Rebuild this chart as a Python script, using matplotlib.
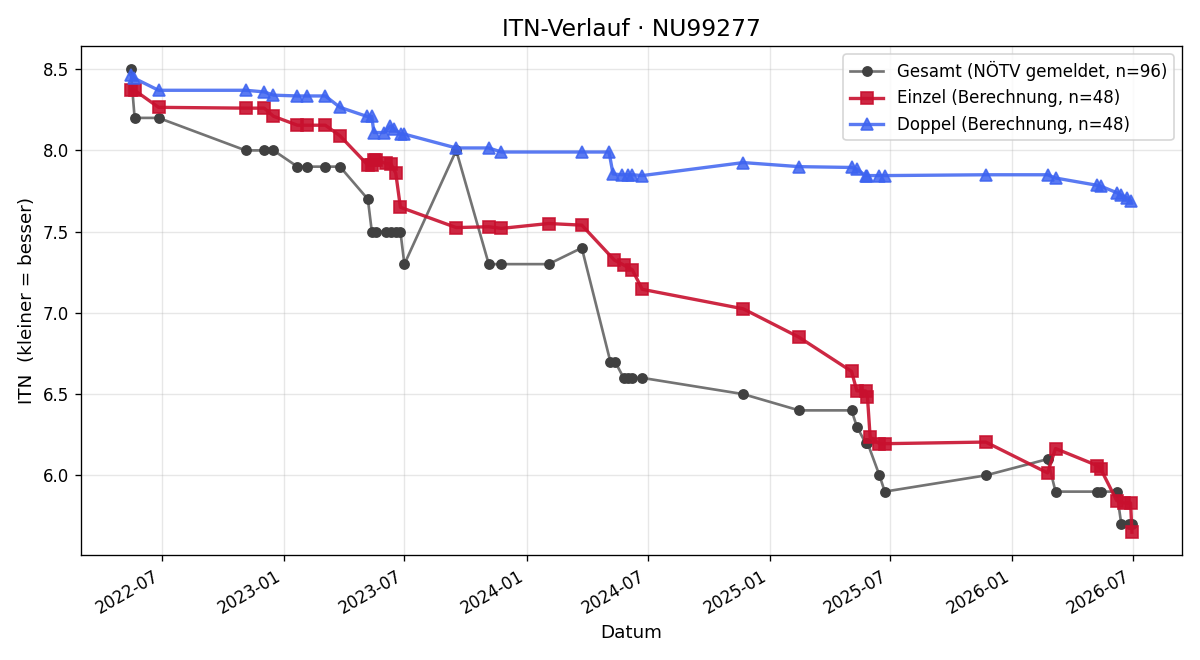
import matplotlib
matplotlib.use("Agg")
import matplotlib.pyplot as plt
import matplotlib.dates as mdates
import pandas as pd

# Gesamt-ITN (vom NÖTV gemeldet)
gesamt_dates = [
    "2022-05-15", "2022-05-21", "2022-06-26", "2022-11-04", "2022-12-02", "2022-12-16",
    "2023-01-21", "2023-02-04", "2023-03-04", "2023-03-26", "2023-05-07", "2023-05-13",
    "2023-05-19", "2023-06-03", "2023-06-11", "2023-06-18", "2023-06-25", "2023-07-01",
    "2023-09-17", "2023-11-05", "2023-11-24", "2024-02-03", "2024-03-24", "2024-05-06",
    "2024-05-13", "2024-05-26", "2024-06-01", "2024-06-08", "2024-06-23", "2024-11-22",
    "2025-02-14", "2025-05-04", "2025-05-12", "2025-05-25", "2025-05-28", "2025-06-15",
    "2025-06-23", "2025-11-22", "2026-02-23", "2026-03-07", "2026-05-09", "2026-05-14",
    "2026-06-07", "2026-06-14", "2026-06-26", "2026-06-30",
]
gesamt_itn = [
    8.5, 8.2, 8.2, 8.0, 8.0, 8.0,
    7.9, 7.9, 7.9, 7.9, 7.7, 7.5,
    7.5, 7.5, 7.5, 7.5, 7.5, 7.3,
    8.0, 7.3, 7.3, 7.3, 7.4, 6.7,
    6.7, 6.6, 6.6, 6.6, 6.6, 6.5,
    6.4, 6.4, 6.3, 6.2, 6.2, 6.0,
    5.9, 6.0, 6.1, 5.9, 5.9, 5.9,
    5.9, 5.7, 5.7, 5.7,
]

# Einzel (Berechnung)
einzel_dates = [
    "2022-05-15", "2022-05-21", "2022-06-26", "2022-11-04", "2022-12-02", "2022-12-16",
    "2023-01-21", "2023-02-04", "2023-03-04", "2023-03-26", "2023-05-07", "2023-05-13",
    "2023-05-16", "2023-05-19", "2023-06-03", "2023-06-11", "2023-06-18", "2023-06-25",
    "2023-09-17", "2023-11-05", "2023-11-24", "2024-02-03", "2024-03-24", "2024-05-12",
    "2024-05-26", "2024-06-08", "2024-06-23", "2024-11-22", "2025-02-14", "2025-05-04",
    "2025-05-12", "2025-05-25", "2025-05-28", "2025-06-01", "2025-06-15", "2025-06-23",
    "2025-11-22", "2026-02-23", "2026-03-07", "2026-05-09", "2026-05-14", "2026-06-07",
    "2026-06-18", "2026-06-28", "2026-06-30",
]
einzel_itn = [
    8.37, 8.37, 8.265, 8.26, 8.26, 8.21,
    8.155, 8.155, 8.155, 8.09, 7.91, 7.91,
    7.94, 7.94, 7.92, 7.915, 7.86, 7.65,
    7.525, 7.53, 7.52, 7.55, 7.54, 7.325,
    7.295, 7.265, 7.145, 7.025, 6.85, 6.64,
    6.52, 6.52, 6.48, 6.235, 6.195, 6.195,
    6.205, 6.015, 6.165, 6.06, 6.04, 5.845,
    5.83, 5.83, 5.65,
]

# Doppel (Berechnung)
doppel_dates = [
    "2022-05-15", "2022-05-20", "2022-06-26", "2022-11-04", "2022-12-02", "2022-12-16",
    "2023-01-21", "2023-02-04", "2023-03-04", "2023-03-26", "2023-05-05", "2023-05-13",
    "2023-05-16", "2023-06-01", "2023-06-10", "2023-06-16", "2023-06-26", "2023-07-01",
    "2023-09-17", "2023-11-05", "2023-11-24", "2024-03-24", "2024-05-04", "2024-05-10",
    "2024-05-23", "2024-06-01", "2024-06-08", "2024-06-23", "2024-11-22", "2025-02-14",
    "2025-05-04", "2025-05-12", "2025-05-25", "2025-05-28", "2025-06-15", "2025-06-23",
    "2025-11-22", "2026-02-23", "2026-03-07", "2026-05-09", "2026-05-14", "2026-06-07",
    "2026-06-14", "2026-06-22", "2026-06-28",
]
doppel_itn = [
    8.465, 8.445, 8.37, 8.37, 8.36, 8.34,
    8.335, 8.335, 8.335, 8.265, 8.21, 8.21,
    8.11, 8.11, 8.15, 8.13, 8.10, 8.10,
    8.015, 8.015, 7.99, 7.99, 7.99, 7.855,
    7.85, 7.85, 7.85, 7.845, 7.925, 7.90,
    7.895, 7.885, 7.845, 7.845, 7.845, 7.845,
    7.85, 7.85, 7.83, 7.785, 7.78, 7.74,
    7.725, 7.71, 7.69,
]

fig, ax = plt.subplots(figsize=(10, 5.5), dpi=120)

ax.plot(pd.to_datetime(gesamt_dates), gesamt_itn, color='0.45', lw=1.6,
        marker='o', ms=5.5, mfc='#404040', mec='#404040',
        label='Gesamt (NÖTV gemeldet, n=96)')
ax.plot(pd.to_datetime(einzel_dates), einzel_itn, color='#C8102E', alpha=0.9, lw=2,
        marker='s', ms=7, label='Einzel (Berechnung, n=48)')
ax.plot(pd.to_datetime(doppel_dates), doppel_itn, color='#3d63f0', alpha=0.85, lw=2,
        marker='^', ms=7, label='Doppel (Berechnung, n=48)')

ax.set_title('ITN-Verlauf · NU99277', fontsize=14)
ax.set_xlabel('Datum', fontsize=11)
ax.set_ylabel('ITN  (kleiner = besser)', fontsize=11)
ax.xaxis.set_major_locator(mdates.MonthLocator(bymonth=[1, 7]))
ax.xaxis.set_major_formatter(mdates.DateFormatter('%Y-%m'))
ax.grid(True, alpha=0.3)
ax.legend(loc='upper right', fontsize=10)
fig.autofmt_xdate()
fig.tight_layout()
fig.savefig('out.png')
